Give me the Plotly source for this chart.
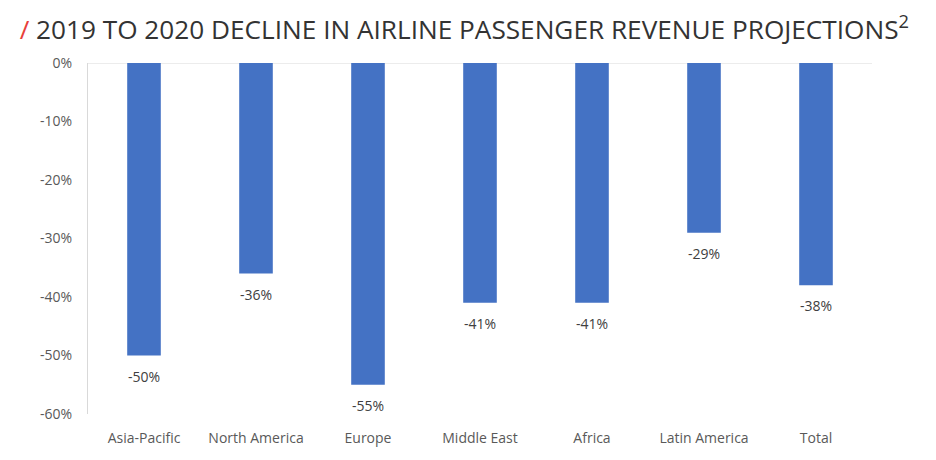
import plotly.graph_objects as go

categories = ["Asia-Pacific", "North America", "Europe", "Middle East", "Africa", "Latin America", "Total"]
values = [-50, -36, -55, -41, -41, -29, -38]
tick_vals = [0, -10, -20, -30, -40, -50, -60]
tick_text = ["0%", "-10%", "-20%", "-30%", "-40%", "-50%", "-60%"]
labels = [f"{v}%" for v in values]

FONT = "Open Sans"

fig = go.Figure(go.Bar(
    x=categories, y=values,
    marker=dict(color="#4472C4", line=dict(width=0)),
    cliponaxis=False,
))

for c, v, t in zip(categories, values, labels):
    fig.add_annotation(x=c, y=v, text=t, showarrow=False, yanchor="top", yshift=-9,
                       font=dict(color="#404040", size=14, family=FONT))

fig.update_layout(
    width=936, height=460,
    margin=dict(l=88, r=64, t=63, b=46),
    paper_bgcolor="white", plot_bgcolor="white",
    bargap=0.7,
    showlegend=False,
    font=dict(family=FONT, color="#595959", size=14),
    title=dict(
        text="<span style='color:#E8403A'>/</span> 2019 TO 2020 DECLINE IN AIRLINE PASSENGER REVENUE PROJECTIONS<sup>2</sup>",
        x=0.021, xanchor="left", y=0.935, yanchor="middle",
        font=dict(family=FONT, size=26.2, color="#333333"),
    ),
    xaxis=dict(showgrid=False, showline=False, ticks="", tickfont=dict(size=14, color="#595959"),
               ticklabelstandoff=14),
    yaxis=dict(
        range=[-60, 0], tickvals=tick_vals, ticktext=tick_text,
        showgrid=False, zeroline=False, showline=True, linecolor="#D9D9D9", linewidth=1,
        ticks="", tickfont=dict(size=14, color="#595959"), ticklabelstandoff=12,
    ),
)
fig.add_shape(type="line", xref="paper", yref="y", x0=0, x1=1, y0=0, y1=0,
              line=dict(color="#D9D9D9", width=1), layer="below")

fig.write_html("out.html")
